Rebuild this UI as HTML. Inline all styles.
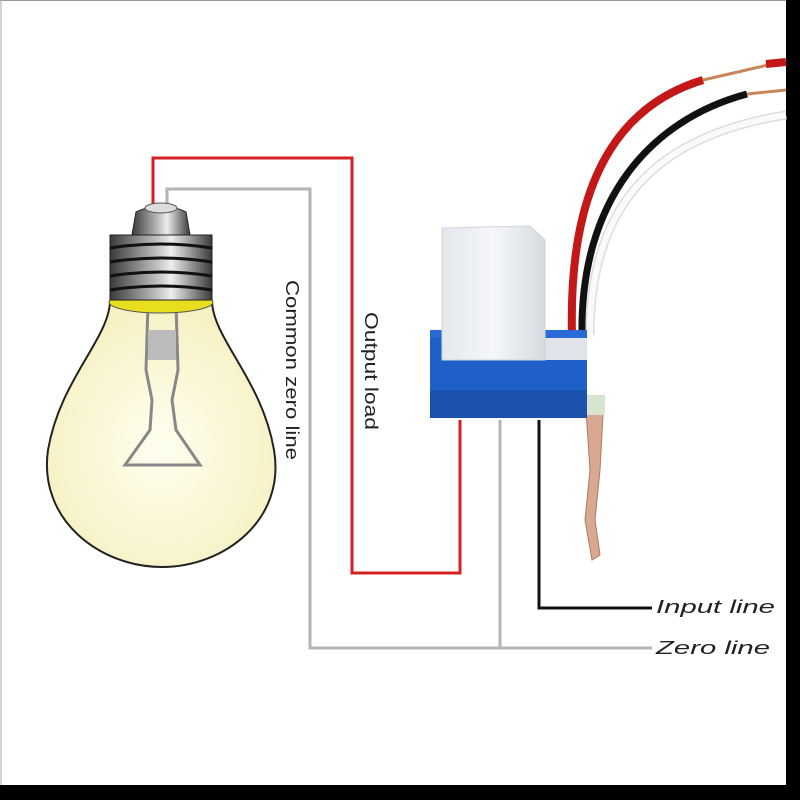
<!DOCTYPE html>
<html><head><meta charset="utf-8"><style>
html,body{margin:0;padding:0;background:#000;}
svg{display:block;}
</style></head><body>
<svg width="800" height="800" viewBox="0 0 800 800" xmlns="http://www.w3.org/2000/svg">
<defs>
<linearGradient id="metal" x1="0" x2="1" y1="0" y2="0">
<stop offset="0" stop-color="#3a3a3a"/><stop offset="0.45" stop-color="#bdbdbd"/><stop offset="0.6" stop-color="#eee"/><stop offset="1" stop-color="#3a3a3a"/>
</linearGradient>
<radialGradient id="glass" cx="0.5" cy="0.55" r="0.6">
<stop offset="0" stop-color="#fffff0"/><stop offset="1" stop-color="#f5efbe"/>
</radialGradient>
<linearGradient id="cap" x1="0" x2="1"><stop offset="0" stop-color="#e4e8ec"/><stop offset="0.5" stop-color="#f5f7f9"/><stop offset="1" stop-color="#d6dadf"/></linearGradient>
</defs>
<rect x="0" y="0" width="786" height="785" fill="#fff"/>
<line x1="0" y1="0.5" x2="786" y2="0.5" stroke="#999"/>
<line x1="1" y1="0" x2="1" y2="785" stroke="#aaa"/>

<polyline points="153,205 153,158 352,158 352,573 460,573 460,420" fill="none" stroke="#d32020" stroke-width="3"/>
<polyline points="167,205 167,189 310,189 310,648 652,648" fill="none" stroke="#b5b5b5" stroke-width="3"/>
<line x1="500" y1="420" x2="500" y2="648" stroke="#b5b5b5" stroke-width="3"/>
<polyline points="539,420 539,608 652,608" fill="none" stroke="#111" stroke-width="3"/>

<path d="M110,302 C108,340 60,380 48,450 C38,520 100,567 162,567 C224,567 286,520 274,450 C262,380 214,340 212,302 Z" fill="url(#glass)" stroke="#222" stroke-width="2"/>
<path d="M148,305 L146,370 L152,400 L150,430 L125,465 L200,465 L176,430 L172,400 L178,370 L176,305 Z" fill="none" stroke="#888" stroke-width="3"/>
<rect x="148" y="330" width="28" height="30" fill="#bbb"/>
<ellipse cx="161" cy="302" rx="52" ry="11" fill="#e8de20" stroke="#555"/>
<rect x="110" y="235" width="102" height="65" fill="url(#metal)" stroke="#222"/>
<g stroke="#111" stroke-width="3" fill="none">
<path d="M110,248 Q161,240 212,248"/><path d="M110,262 Q161,254 212,262"/><path d="M110,276 Q161,268 212,276"/><path d="M110,290 Q161,282 212,290"/>
</g>
<path d="M132,235 L136,212 Q161,200 186,212 L190,235 Z" fill="url(#metal)" stroke="#222"/>
<ellipse cx="161" cy="208" rx="16" ry="5" fill="#ddd" stroke="#555"/>

<text transform="translate(286,280) rotate(90)" font-family="Liberation Sans, sans-serif" font-size="18" fill="#222" textLength="180" lengthAdjust="spacingAndGlyphs">Common zero line</text>
<text transform="translate(365,312) rotate(90)" font-family="Liberation Sans, sans-serif" font-size="18" fill="#222" textLength="118" lengthAdjust="spacingAndGlyphs">Output load</text>
<text x="656" y="613" font-family="Liberation Sans, sans-serif" font-size="18" font-style="italic" fill="#222" textLength="119" lengthAdjust="spacingAndGlyphs">Input line</text>
<text x="656" y="654" font-family="Liberation Sans, sans-serif" font-size="18" font-style="italic" fill="#222" textLength="114" lengthAdjust="spacingAndGlyphs">Zero line</text>

<path d="M590,335 C590,200 660,135 786,115" fill="none" stroke="#ddd" stroke-width="9"/>
<path d="M590,335 C590,200 660,135 786,115" fill="none" stroke="#fafafa" stroke-width="6"/>
<path d="M582,335 C580,200 650,120 747,94" fill="none" stroke="#111" stroke-width="7"/>
<path d="M747,94 L786,90" stroke="#c8875a" stroke-width="3"/>
<path d="M572,335 C568,180 620,105 703,80" fill="none" stroke="#c41818" stroke-width="8"/>
<path d="M703,80 L768,65" stroke="#c8875a" stroke-width="3"/>
<path d="M766,64 L786,62" stroke="#c41818" stroke-width="8"/>

<path d="M585,395 L604,397 L600,470 L595,520 L600,555 L592,560 L585,520 L590,470 Z" fill="#d8a990" stroke="#b07a60"/>
<rect x="585" y="395" width="20" height="20" fill="#d7e4d0"/>
<rect x="430" y="330" width="157" height="88" rx="4" fill="#1f5fc8"/>
<rect x="430" y="390" width="157" height="28" fill="#1a52ae"/>
<rect x="430" y="330" width="157" height="8" fill="#2a6ad6"/>
<rect x="545" y="338" width="42" height="22" fill="#e0e4ea"/>
<path d="M442,228 L530,226 L545,240 L545,360 L442,360 Z" fill="url(#cap)" stroke="#cfd4da"/>
</svg>
</body></html>
